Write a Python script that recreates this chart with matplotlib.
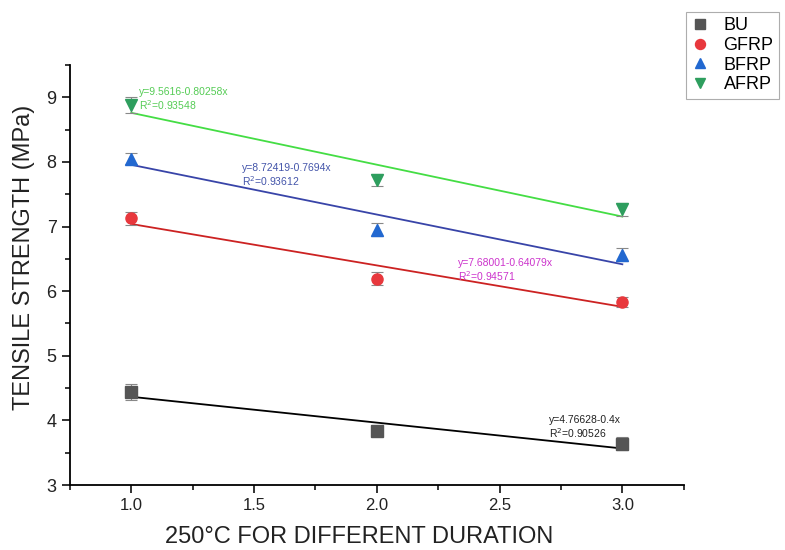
import numpy as np
import matplotlib
matplotlib.use('Agg')
from matplotlib import pyplot as plt
from matplotlib.ticker import MultipleLocator

plt.rcParams['font.family'] = ['Liberation Sans', 'DejaVu Sans']

# durations and measured tensile strength (MPa)
x = [1.0, 2.0, 3.0]
bu = [4.44, 3.84, 3.64]
gfrp = [7.13, 6.19, 5.83]
bfrp = [8.05, 6.95, 6.56]
afrp = [8.88, 7.72, 7.27]
err_bu = [0.12, 0.08, 0.1]
err_gfrp = [0.1, 0.1, 0.08]
err_bfrp = [0.08, 0.1, 0.1]
err_afrp = [0.12, 0.1, 0.1]

# fitted lines: intercept, slope, R^2
fit_bu = (4.76628, -0.4, '0.90526')
fit_gfrp = (7.68001, -0.64079, '0.94571')
fit_bfrp = (8.72419, -0.7694, '0.93612')
fit_afrp = (9.5616, -0.80258, '0.93548')

fig = plt.figure(figsize=(7.85, 5.5), dpi=100)
ax = fig.add_axes([0.089, 0.118, 0.782, 0.764])

series = [
    ('BU', bu, err_bu, fit_bu, 's', '#555555', 'black', '#222222'),
    ('GFRP', gfrp, err_gfrp, fit_gfrp, 'o', '#e8383d', '#cc2222', '#cc33cc'),
    ('BFRP', bfrp, err_bfrp, fit_bfrp, '^', '#2268d0', '#3844a8', '#4455aa'),
    ('AFRP', afrp, err_afrp, fit_afrp, 'v', '#2e9e5e', '#44dd44', '#55cc55'),
]

# equation label positions (data coords)
eq_pos = {'BU': (2.7, 4.0), 'GFRP': (2.33, 6.44), 'BFRP': (1.45, 7.9), 'AFRP': (1.03, 9.08)}
eq_txt = {'BU': 'y=4.76628-0.4x', 'GFRP': 'y=7.68001-0.64079x',
          'BFRP': 'y=8.72419-0.7694x', 'AFRP': 'y=9.5616-0.80258x'}

xx = np.array([1.0, 3.0])
for name, ys, err, fit, mk, col, lcol, tcol in series:
    ax.plot(xx, fit[0] + fit[1] * xx, color=lcol, lw=1.3, zorder=2)
    ax.errorbar(x, ys, yerr=err, fmt=mk, color=col, ms=8, ecolor='#888888',
                elinewidth=0.8, capsize=4, capthick=0.8, label=name, zorder=3)
    px, py = eq_pos[name]
    ax.text(px, py, eq_txt[name], color=tcol, fontsize=7.5, va='center')
    ax.text(px, py - 0.2, 'R$^2$=' + fit[2], color=tcol, fontsize=7.5, va='center')

ax.set_xlim(0.75, 3.25)
ax.set_ylim(3, 9.5)
ax.xaxis.set_major_locator(MultipleLocator(0.5))
ax.xaxis.set_minor_locator(MultipleLocator(0.25))
ax.yaxis.set_major_locator(MultipleLocator(1))
ax.yaxis.set_minor_locator(MultipleLocator(0.5))
ax.xaxis.set_major_formatter(plt.FormatStrFormatter('%.1f'))
ax.spines['top'].set_visible(False)
ax.spines['right'].set_visible(False)
ax.spines['left'].set_linewidth(1.3)
ax.spines['bottom'].set_linewidth(1.3)
ax.tick_params(which='major', length=6, width=1.3, colors='#222222')
ax.tick_params(axis='x', labelsize=12)
ax.tick_params(axis='y', labelsize=13)
ax.tick_params(which='minor', length=3.5, width=1.1)
ax.set_xlabel('250°C FOR DIFFERENT DURATION', fontsize=17, color='#222222')
ax.set_ylabel('TENSILE STRENGTH (MPa)', fontsize=17, color='#222222')
ax.xaxis.set_label_coords(0.472, -0.098)
ax.yaxis.set_label_coords(-0.056, 0.543)

handles, labels = ax.get_legend_handles_labels()
handles = [h[0] for h in handles]
leg = fig.legend(handles, labels, loc='upper left', bbox_to_anchor=(0.862, 0.995),
                 fontsize=13, frameon=True, fancybox=False, edgecolor='#999999',
                 handlelength=1.0, handletextpad=0.8, labelspacing=0.15,
                 borderpad=0.3, markerscale=0.9)
leg.get_frame().set_linewidth(0.8)

fig.savefig('out.png', dpi=100)
